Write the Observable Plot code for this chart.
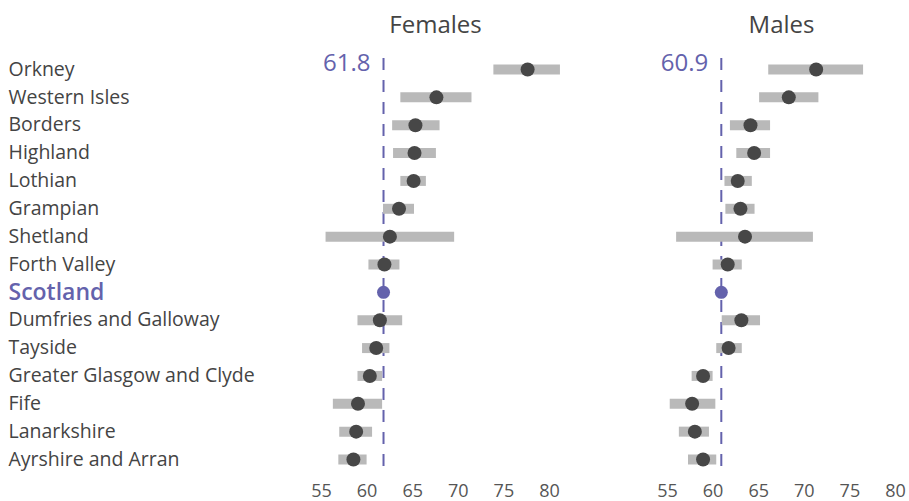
<!DOCTYPE html>
<html><head><meta charset="utf-8">
<script src="https://cdn.jsdelivr.net/npm/d3@7"></script>
<script src="https://cdn.jsdelivr.net/npm/@observablehq/plot@0.6"></script>
<style>body{margin:0;background:#fff;}</style>
</head><body><div id="chart"></div>
<script>
const regions = ["Orkney","Western Isles","Borders","Highland","Lothian","Grampian","Shetland","Forth Valley","Scotland","Dumfries and Galloway","Tayside","Greater Glasgow and Clyde","Fife","Lanarkshire","Ayrshire and Arran"];
const sexes = ["Females","Males"];
const femalesValue = [77.6, 67.6, 65.3, 65.2, 65.1, 63.5, 62.5, 61.9, 61.8, 61.4, 61.0, 60.3, 59.0, 58.8, 58.5];
const femalesLow   = [73.9, 63.7, 62.8, 62.9, 63.7, 61.8, 55.5, 60.2, null, 59.0, 59.5, 59.0, 56.3, 57.0, 56.9];
const femalesHigh  = [81.2, 71.5, 68.0, 67.6, 66.5, 65.2, 69.6, 63.6, null, 63.9, 62.5, 61.7, 61.7, 60.6, 60.0];
const malesValue   = [71.3, 68.3, 64.1, 64.5, 62.7, 63.0, 63.5, 61.6, 60.9, 63.1, 61.7, 58.9, 57.7, 58.0, 58.9];
const malesLow     = [66.1, 65.1, 61.9, 62.6, 61.3, 61.4, 56.0, 60.0, null, 61.0, 60.4, 57.7, 55.3, 56.3, 57.3];
const malesHigh    = [76.5, 71.6, 66.3, 66.3, 64.3, 64.6, 71.0, 63.2, null, 65.2, 63.2, 60.0, 60.3, 59.6, 60.4];
const scotlandValue = [61.8, 60.9];
const scotlandLabel = ["61.8", "60.9"];
const xTicks = [55, 60, 65, 70, 75, 80];

const purple = "#6462ac";
const rows = [];
regions.forEach((r, i) => {
  rows.push({region: r, sex: "Females", value: femalesValue[i], low: femalesLow[i], high: femalesHigh[i]});
  rows.push({region: r, sex: "Males", value: malesValue[i], low: malesLow[i], high: malesHigh[i]});
});
const areas = rows.filter(d => d.region !== "Scotland");
const scot = sexes.map((s, i) => ({sex: s, value: scotlandValue[i], label: scotlandLabel[i], region: "Scotland"}));

const chart = Plot.plot({
  width: 909,
  height: 501,
  marginLeft: 320,
  marginRight: 13,
  marginTop: 55,
  marginBottom: 28,
  style: {fontFamily: "'Open Sans', sans-serif", color: "#444", background: "white"},
  fx: {domain: sexes, paddingInner: 0.34, paddingOuter: 0, axis: null, label: null},
  x: {domain: [55, 80], axis: null},
  y: {type: "point", domain: regions, range: [69, 459], padding: 0, round: false, axis: null},
  marks: [
    Plot.axisX({ticks: xTicks, tickSize: 0, tickPadding: 11, fontSize: 18, fill: "#555", label: null}),
    Plot.text(sexes, {fx: d => d, frameAnchor: "top", dy: -40, text: d => d, fontSize: 24, fill: "#444"}),
    Plot.text(regions.filter(r => r !== "Scotland"), {fx: d => "Females", y: d => d, text: d => d, frameAnchor: "left", textAnchor: "start", dx: -313, fontSize: 19.5, fill: "#444"}),
    Plot.text(["Scotland"], {fx: d => "Females", y: d => d, text: d => d, frameAnchor: "left", textAnchor: "start", dx: -313, fontSize: 23, fontWeight: 600, fill: purple}),
    Plot.ruleX(scot, {fx: "sex", x: "value", stroke: purple, strokeWidth: 2, strokeDasharray: "12,10", insetTop: 3, insetBottom: -2}),
    Plot.ruleY(areas, {fx: "sex", y: "region", x1: "low", x2: "high", stroke: "#b9b9b9", strokeWidth: 10}),
    Plot.dot(areas, {fx: "sex", y: "region", x: "value", r: 7, fill: "#474747"}),
    Plot.dot(scot, {fx: "sex", y: "region", x: "value", r: 6.5, fill: purple}),
    Plot.text(scot, {fx: "sex", x: "value", y: d => regions[0], text: "label", textAnchor: "end", dx: -13, dy: -6, fontSize: 24, fill: purple})
  ]
});
document.getElementById("chart").append(chart);
</script>
</body></html>
